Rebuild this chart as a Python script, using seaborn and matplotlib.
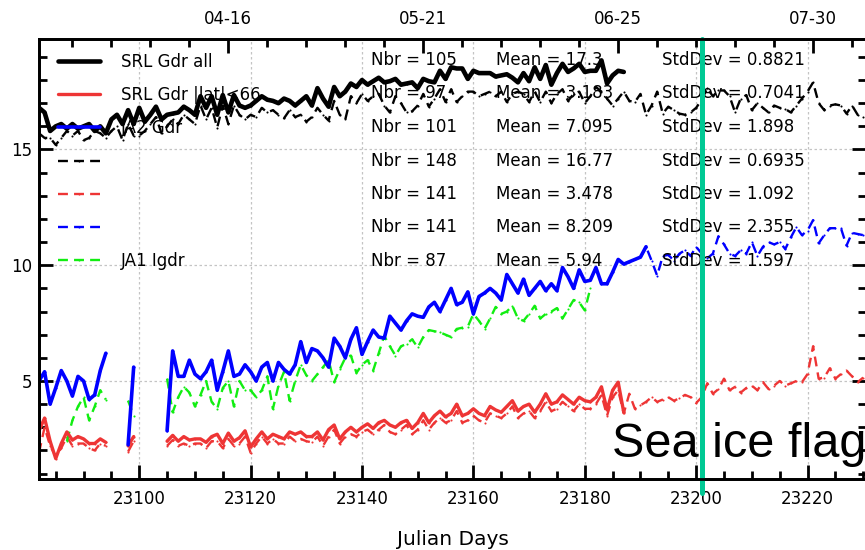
import numpy as np
import pandas as pd
import matplotlib
matplotlib.use("Agg")
import matplotlib.pyplot as plt
import seaborn as sns
from matplotlib.ticker import MultipleLocator, FixedLocator

nan = np.nan

# ---------------- data (CNES julian days, one value per day) ----------------
srl_all_start = 23082
srl_all = [16.8, 16.6, 15.8, 16.0, 16.1, 15.9, 16.1, 15.9, 16.0, 16.1,
           15.8, 16.0, 15.7, 16.3, 16.5, 16.1, 16.7, 16.1, 16.8, 16.2,
           16.5, 16.85, 16.3, 16.5, 16.55, 16.6, 16.85, 16.7, 16.5, 17.3,
           16.8, 17.3, 16.5, 17.35, 16.6, 17.35, 16.9, 16.8, 16.9, 17.1,
           17.3, 17.15, 17.1, 17.0, 17.2, 17.1, 16.9, 17.1, 17.3, 16.9,
           17.65, 17.2, 16.85, 17.7, 17.3, 17.5, 17.85, 17.7, 18.0, 17.8,
           17.95, 18.1, 17.9, 17.95, 18.05, 17.8, 17.85, 17.9, 17.65, 18.05,
           17.95, 17.9, 18.4, 18.05, 18.55, 18.5, 18.5, 18.05, 18.4, 18.3,
           18.3, 18.3, 18.15, 18.2, 18.25, 18.1, 17.9, 18.3, 17.95, 18.55,
           18.05, 18.65, 17.8, 18.3, 18.7, 18.35, 18.5, 18.7, 18.35, 18.4,
           18.4, 18.85, 17.85, 18.2, 18.4, 18.35]

srl_lat_start = 23082
srl_lat = [2.85, 3.4, 2.4, 1.65, 2.3, 2.8, 2.45, 2.6, 2.5, 2.3,
           2.3, 2.5, 2.35, nan, nan, nan, 2.2, 2.6, nan, nan,
           nan, nan, nan, 2.4, 2.65, 2.4, 2.6, 2.45, 2.5, 2.5,
           2.35, 2.6, 2.7, 2.3, 2.75, 2.4, 2.55, 2.85, 2.15, 2.5,
           2.8, 2.5, 2.7, 2.6, 2.5, 2.8, 2.7, 2.8, 2.6, 2.6,
           2.8, 2.45, 2.9, 3.1, 2.5, 2.8, 3.0, 2.8, 3.0, 3.15,
           2.95, 3.2, 3.3, 3.1, 3.0, 3.2, 3.3, 2.95, 3.2, 3.6,
           3.2, 3.5, 3.7, 3.45, 3.6, 4.0, 3.5, 3.6, 3.8, 3.6,
           3.5, 3.9, 3.75, 3.65, 3.9, 4.15, 3.7, 3.9, 4.0, 3.65,
           4.0, 4.45, 4.0, 4.1, 4.4, 4.2, 4.0, 4.3, 4.15, 4.1,
           4.3, 4.75, 3.75, 4.6, 4.95, 3.65]

ja2_start = 23082
ja2 = [5.0, 5.4, 4.0, 4.7, 5.45, 5.0, 4.35, 5.2, 5.0, 4.2,
       4.4, 5.45, 6.2, nan, nan, nan, 2.25, 5.6, nan, nan,
       nan, nan, nan, 2.85, 6.3, 5.2, 5.2, 5.9, 5.3, 5.1,
       5.4, 5.9, 4.6, 5.4, 6.3, 5.2, 5.3, 5.7, 5.4, 5.0,
       5.6, 5.8, 5.0, 5.8, 5.5, 5.3, 5.7, 6.7, 5.8, 6.4,
       6.3, 6.0, 5.6, 6.85, 6.5, 6.0, 6.8, 7.3, 6.15, 6.7,
       7.2, 6.9, 6.85, 7.8, 7.5, 7.2, 7.6, 7.9, 7.8, 7.75,
       8.2, 8.4, 8.0, 8.5, 9.0, 8.3, 8.4, 8.85, 7.9, 8.65,
       8.8, 9.0, 8.8, 8.5, 9.6, 9.2, 8.8, 9.4, 8.7, 9.0,
       9.3, 8.9, 9.2, 8.9, 9.9, 9.5, 9.0, 9.8, 9.3, 9.35,
       9.9, 9.2, 9.2, 9.7, 10.25, 10.05, 10.15, 10.25, 10.35, 10.8]

srl_all_b_start = 23082
srl_all_b = [15.7, 15.5, 15.5, 15.2, 15.5, 15.8, 15.6, 15.8, 15.4, 15.5,
             15.8, 15.7, 15.5, 15.8, 16.0, 15.4, 16.1, 15.6, 15.6, 15.8,
             16.1, 16.4, 15.7, 16.0, 16.3, 16.1, 16.5, 16.3, 16.1, 16.9,
             16.3, 16.8, 15.95, 16.9, 16.1, 16.9, 16.5, 16.3, 16.5, 16.4,
             16.8, 16.6, 16.7, 16.5, 16.35, 16.7, 16.4, 16.5, 16.2, 16.4,
             16.8, 16.5, 16.25, 17.1, 16.5, 16.3, 17.3, 17.0, 17.4, 17.1,
             17.3, 17.4, 16.9, 16.6, 17.3, 17.0, 16.6, 16.65, 16.9, 17.4,
             16.85, 17.2, 17.6, 17.05, 17.6, 17.05, 17.3, 17.5, 17.5, 17.3,
             17.4, 17.5, 17.3, 17.5, 17.05, 17.4, 17.5, 17.4, 17.05, 17.5,
             17.05, 17.5, 17.0, 17.4, 17.6, 17.1, 17.4, 17.5, 17.0, 17.3,
             17.7, 17.5, 17.2, 16.9, 17.2, 17.5, 17.1, 17.05, 17.4, 16.5,
             16.9, 17.5, 16.55, 16.85, 16.7, 16.55, 16.5, 16.6, 16.8, 17.15,
             17.65, 17.3, 17.55, 17.55, 17.3, 16.6, 17.2, 17.35, 16.7, 17.0,
             16.8, 16.6, 16.9, 16.8, 16.75, 16.6, 16.9, 17.2, 17.5, 17.9,
             17.0, 16.7, 16.9, 16.95, 16.9, 16.55, 16.9, 16.5, 16.4]

srl_lat_b_start = 23082
srl_lat_b = [1.9, 3.0, 2.2, 1.75, 2.1, 2.6, 2.2, 2.3, 2.3, 2.1,
             2.0, 2.3, 2.2, nan, nan, nan, 1.95, 2.4, nan, nan,
             nan, nan, nan, 2.2, 2.45, 2.2, 2.3, 2.2, 2.3, 2.3,
             2.1, 2.4, 2.4, 2.1, 2.5, 2.2, 2.3, 2.6, 1.9, 2.3,
             2.6, 2.3, 2.5, 2.3, 2.3, 2.6, 2.4, 2.5, 2.4, 2.35,
             2.6, 2.2, 2.6, 2.9, 2.3, 2.6, 2.7, 2.6, 2.8, 2.9,
             2.7, 2.9, 3.1, 2.8, 2.7, 2.9, 3.1, 2.7, 2.9, 3.3,
             2.9, 3.2, 3.4, 3.2, 3.3, 3.7, 3.2, 3.3, 3.5, 3.3,
             3.2, 3.6, 3.5, 3.4, 3.6, 3.9, 3.4, 3.6, 3.7, 3.4,
             3.7, 4.1, 3.7, 3.8, 4.1, 3.9, 3.7, 4.0, 3.8, 3.8,
             4.0, 4.4, 3.5, 4.3, 4.6, 3.6, 4.45, 3.8, 3.95, 4.1,
             4.3, 4.1, 4.2, 4.3, 4.15, 4.25, 4.4, 4.3, 4.05, 4.3,
             4.9, 4.45, 4.65, 5.1, 4.6, 4.75, 4.5, 4.7, 4.8, 4.6,
             4.95, 4.65, 4.8, 5.0, 4.8, 4.9, 5.0, 4.95, 5.3, 6.5,
             5.1, 5.15, 5.55, 5.1, 5.3, 5.45, 5.2, 4.95, 5.15]

ja2_b_start = 23190
ja2_b = [10.35, 10.8, 10.2, 9.55, 10.4, 10.45, 10.2, 10.5, 10.65, 10.4,
         10.8, 10.5, 10.3, 10.5, 11.25, 10.9, 10.5, 10.4, 10.65, 10.5,
         11.0, 10.4, 10.8, 11.0, 10.9, 11.0, 10.7, 11.2, 11.65, 11.3,
         11.5, 11.95, 10.95, 11.3, 11.6, 11.6, 11.6, 10.85, 11.4, 11.35,
         11.3]

ja1_start = 23087
ja1 = [2.4, 3.3, 3.9, 4.3, 3.3, 3.9, 4.6, 4.2, nan, nan,
       nan, 4.15, 3.5, nan, nan, nan, nan, nan, 5.1, 3.65,
       4.3, 4.75, 4.5, 3.9, 4.4, 5.0, 4.1, 3.8, 4.7, 5.0,
       3.9, 5.0, 4.6, 4.6, 4.3, 4.6, 5.2, 3.8, 4.8, 5.4,
       4.15, 5.0, 5.7, 5.25, 5.0, 5.3, 5.6, 5.9, 4.95, 5.5,
       6.0, 6.1, 5.35, 5.7, 5.9, 5.45, 6.2, 6.95, 6.5, 6.1,
       6.5, 6.6, 6.8, 6.45, 6.9, 7.2, 7.15, 7.1, 7.0, 6.9,
       7.25, 7.3, 7.35, 7.9, 7.6, 7.25, 7.7, 8.2, 7.9, 8.0,
       8.25, 7.7, 7.6, 7.9, 8.25, 7.7, 7.9, 8.0, 8.15, 7.7,
       8.1, 8.5, 8.4, 8.05, 9.0]

legend_labels = ["SRL Gdr all", "SRL Gdr |lat|<66", "JA2 Gdr", " ", " ", " ", "JA1 Igdr"]
stat_nbr = [105, 97, 101, 148, 141, 141, 87]
stat_mean = ["17.3", "3.183", "7.095", "16.77", "3.478", "8.209", "5.94"]
stat_std = ["0.8821", "0.7041", "1.898", "0.6935", "1.092", "2.355", "1.597"]

top_tick_days = [23116, 23151, 23186, 23221]
top_tick_labels = ["04-16", "05-21", "06-25", "07-30"]
sea_ice_day = 23201
sea_ice_text = "Sea ice flag"

# ---------------- style ----------------
sns.set_style("ticks")
plt.rcParams["font.family"] = ["DejaVu Sans"]
plt.rcParams["axes.linewidth"] = 2.0
for k in ["text.color", "axes.labelcolor", "xtick.color", "ytick.color",
          "axes.edgecolor"]:
    plt.rcParams[k] = "black"

fig = plt.figure(figsize=(8.65, 5.5), dpi=100)
ax = fig.add_axes([39 / 865, 71.3 / 550, 827 / 865, 439.4 / 550])

RED = "#ee3535"
BLUE = "#0000ff"
GREEN = "#11ee11"
DASH = (0, (4.2, 2.6))


def draw(start, vals, color, ls, lw, z):
    df = pd.DataFrame({"day": start + np.arange(len(vals)), "val": vals})
    seg_id = df["val"].isna().cumsum()
    ok = df["val"].notna()
    first = None
    for _, g in df[ok].groupby(seg_id[ok]):
        sns.lineplot(data=g, x="day", y="val", ax=ax, color=color,
                     linestyle=ls, linewidth=lw, marker=".", markersize=3,
                     markeredgewidth=0, legend=False, zorder=z,
                     estimator=None, sort=False)
        if first is None:
            first = ax.lines[-1]
    return first


h4 = draw(srl_all_b_start, srl_all_b, "black", DASH, 1.7, 2.0)
h5 = draw(srl_lat_b_start, srl_lat_b, RED, DASH, 1.7, 2.0)
h6 = draw(ja2_b_start, ja2_b, BLUE, DASH, 1.7, 2.0)
h7 = draw(ja1_start, ja1, GREEN, DASH, 1.7, 2.1)
h1 = draw(srl_all_start, srl_all, "black", "-", 3.3, 2.3)
h2 = draw(srl_lat_start, srl_lat, RED, "-", 2.4, 2.3)
h3 = draw(ja2_start, ja2, BLUE, "-", 2.6, 2.3)

ax.set_xlim(23082, 23230.5)
ax.set_ylim(0.78, 19.76)

ax.xaxis.set_major_locator(MultipleLocator(20))
ax.xaxis.set_minor_locator(MultipleLocator(5))
ax.yaxis.set_major_locator(MultipleLocator(5))
ax.yaxis.set_minor_locator(MultipleLocator(1))
ax.tick_params(which="both", direction="in", top=False, right=True,
               width=2.0, labelsize=12)
ax.tick_params(which="major", length=10)
ax.tick_params(which="minor", length=5.5)
ax.tick_params(axis="x", pad=8)
ax.tick_params(axis="y", pad=5)
ax.grid(True, which="major", color="#c4c4c4", linestyle=(0, (2, 2)), linewidth=0.9)
ax.set_xlabel("Julian Days", fontsize=14.5, labelpad=16)
ax.set_ylabel("")

top = ax.twiny()
top.set_xlim(ax.get_xlim())
top.xaxis.set_major_locator(FixedLocator(top_tick_days))
top.set_xticklabels(top_tick_labels)
top.xaxis.set_minor_locator(MultipleLocator(7, offset=top_tick_days[0] % 7))
top.tick_params(which="both", direction="in", width=2.0, labelsize=12, pad=8)
top.tick_params(which="major", length=10)
top.tick_params(which="minor", length=5.5)
top.grid(False)
for s in top.spines.values():
    s.set_linewidth(2.0)

leg = ax.legend([h1, h2, h3, h4, h5, h6, h7], legend_labels,
                loc="upper left", bbox_to_anchor=(19 / 827, 0.969),
                frameon=False, fontsize=12, handlelength=2.5,
                handletextpad=1.3, labelspacing=0.91, borderpad=0,
                borderaxespad=0)

row_px = [60, 93.5, 127, 160.5, 194, 227.5, 261]
for i in range(len(stat_nbr)):
    yf = (478.7 - row_px[i]) / 439.4
    ax.text(0.402, yf, f"Nbr = {stat_nbr[i]}", transform=ax.transAxes,
            fontsize=12, va="center", ha="left", zorder=3)
    ax.text(0.553, yf, f"Mean = {stat_mean[i]}", transform=ax.transAxes,
            fontsize=12, va="center", ha="left", zorder=3)
    ax.text(0.753, yf, f"StdDev = {stat_std[i]}", transform=ax.transAxes,
            fontsize=12, va="center", ha="left", zorder=3)

ax.axvline(sea_ice_day, ymin=-0.033, ymax=1.0, color="#00c994",
           linewidth=3.6, zorder=10, clip_on=False)
ax.text(0.693, 0.05, sea_ice_text, transform=ax.transAxes, fontsize=35,
        family=["Liberation Sans", "DejaVu Sans"], va="baseline", ha="left",
        color="black", zorder=11, clip_on=False)

fig.savefig("out.png", dpi=100)
